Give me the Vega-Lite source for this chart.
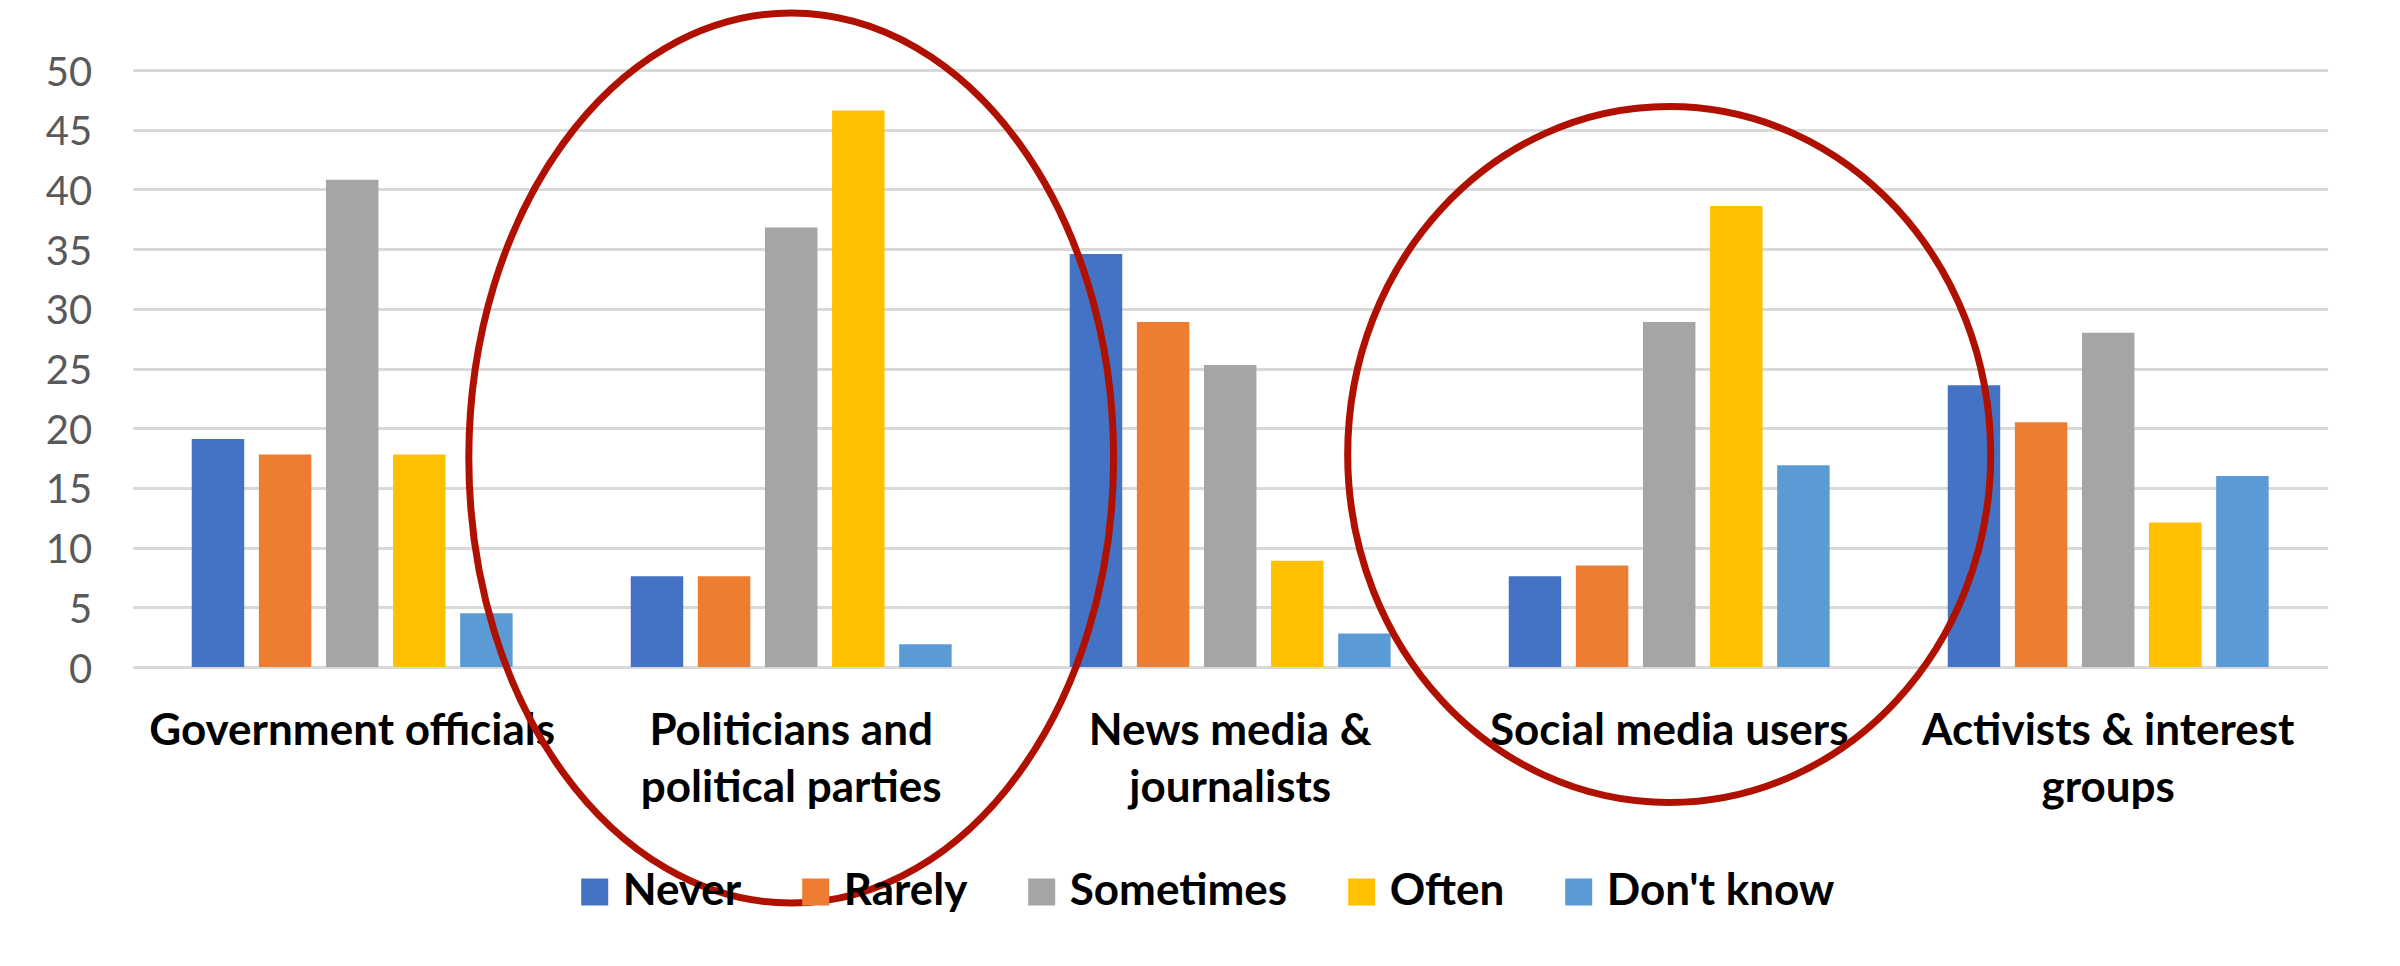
{
  "$schema": "https://vega.github.io/schema/vega-lite/v6.json",
  "width": 2195,
  "height": 597,
  "autosize": {"type": "none"},
  "padding": {"left": 132.7, "top": 70, "right": 72.3, "bottom": 299},
  "background": "white",
  "config": {"view": {"stroke": null}, "font": "Lato"},
  "datasets": {
    "survey": [
      {"group": "Government officials", "response": "Never", "value": 19.1},
      {"group": "Government officials", "response": "Rarely", "value": 17.8},
      {"group": "Government officials", "response": "Sometimes", "value": 40.8},
      {"group": "Government officials", "response": "Often", "value": 17.8},
      {"group": "Government officials", "response": "Don't know", "value": 4.5},
      {"group": "Politicians and political parties", "response": "Never", "value": 7.6},
      {"group": "Politicians and political parties", "response": "Rarely", "value": 7.6},
      {"group": "Politicians and political parties", "response": "Sometimes", "value": 36.8},
      {"group": "Politicians and political parties", "response": "Often", "value": 46.6},
      {"group": "Politicians and political parties", "response": "Don't know", "value": 1.9},
      {"group": "News media & journalists", "response": "Never", "value": 34.6},
      {"group": "News media & journalists", "response": "Rarely", "value": 28.9},
      {"group": "News media & journalists", "response": "Sometimes", "value": 25.3},
      {"group": "News media & journalists", "response": "Often", "value": 8.9},
      {"group": "News media & journalists", "response": "Don't know", "value": 2.8},
      {"group": "Social media users", "response": "Never", "value": 7.6},
      {"group": "Social media users", "response": "Rarely", "value": 8.5},
      {"group": "Social media users", "response": "Sometimes", "value": 28.9},
      {"group": "Social media users", "response": "Often", "value": 38.6},
      {"group": "Social media users", "response": "Don't know", "value": 16.9},
      {"group": "Activists & interest groups", "response": "Never", "value": 23.6},
      {"group": "Activists & interest groups", "response": "Rarely", "value": 20.5},
      {"group": "Activists & interest groups", "response": "Sometimes", "value": 28.0},
      {"group": "Activists & interest groups", "response": "Often", "value": 12.1},
      {"group": "Activists & interest groups", "response": "Don't know", "value": 16.0}
    ],
    "highlights": [
      {"group": "Politicians and political parties", "center": 17.5},
      {"group": "Social media users", "center": 17.8}
    ]
  },
  "layer": [
    {
      "data": {"name": "survey"},
      "mark": {"type": "bar"},
      "encoding": {
        "x": {
          "field": "group",
          "type": "nominal",
          "sort": null,
          "scale": {
            "domain": ["Government officials", "Politicians and political parties", "News media & journalists", "Social media users", "Activists & interest groups"],
            "paddingInner": 0,
            "paddingOuter": 0
          },
          "axis": {
            "title": null,
            "labelAngle": 0,
            "labelFont": "Lato",
            "labelFontSize": 44,
            "labelFontWeight": "bold",
            "labelColor": "#000000",
            "labelPadding": 42,
            "ticks": false,
            "tickSize": 0,
            "domain": false,
            "grid": false,
            "labelLimit": 0,
            "labelLineHeight": 57,
            "labelBaseline": "top",
            "zindex": 0,
            "labelExpr": "datum.value == 'Politicians and political parties' ? ['Politicians and', 'political parties'] : datum.value == 'News media & journalists' ? ['News media &', 'journalists'] : datum.value == 'Activists & interest groups' ? ['Activists & interest', 'groups'] : datum.value"
          }
        },
        "xOffset": {
          "field": "response",
          "type": "nominal",
          "sort": ["Never", "Rarely", "Sometimes", "Often", "Don't know"],
          "scale": {"paddingInner": 0.218, "paddingOuter": 0.88}
        },
        "y": {
          "field": "value",
          "type": "quantitative",
          "scale": {"domain": [0, 50], "nice": false, "zero": true},
          "axis": {
            "title": null,
            "values": [0, 5, 10, 15, 20, 25, 30, 35, 40, 45, 50],
            "labelFont": "Lato",
            "labelFontSize": 40,
            "labelColor": "#595959",
            "labelPadding": 41,
            "labelOffset": 3,
            "ticks": false,
            "tickSize": 0,
            "domain": false,
            "grid": true,
            "gridColor": "#D9D9D9",
            "gridWidth": 3,
            "zindex": 0
          }
        },
        "color": {
          "field": "response",
          "type": "nominal",
          "sort": ["Never", "Rarely", "Sometimes", "Often", "Don't know"],
          "scale": {
            "domain": ["Never", "Rarely", "Sometimes", "Often", "Don't know"],
            "range": ["#4472C4", "#ED7D31", "#A5A5A5", "#FFC000", "#5B9BD5"]
          },
          "legend": {
            "title": null,
            "orient": "none",
            "legendX": 440,
            "legendY": 800,
            "direction": "horizontal",
            "columns": 5,
            "symbolType": "square",
            "symbolSize": 729,
            "symbolStrokeWidth": 0,
            "labelFont": "Lato",
            "labelFontSize": 44,
            "labelFontWeight": "bold",
            "labelColor": "#000000",
            "labelOffset": 6,
            "labelLimit": 0,
            "columnPadding": 52,
            "padding": 0,
            "zindex": 0
          }
        }
      }
    },
    {
      "data": {"name": "highlights"},
      "transform": [{"filter": "datum.group === 'Politicians and political parties'"}],
      "mark": {
        "type": "point",
        "shape": "M 0.7245,0 C 0.7245,0.5523 0.4001,1 0,1 C -0.4001,1 -0.7245,0.5523 -0.7245,0 C -0.7245,-0.5523 -0.4001,-1 0,-1 C 0.4001,-1 0.7245,-0.5523 0.7245,0 Z",
        "size": 792100,
        "filled": false,
        "stroke": "#B01000",
        "strokeWidth": 7,
        "opacity": 1
      },
      "encoding": {
        "x": {"field": "group", "type": "nominal", "sort": null},
        "y": {"field": "center", "type": "quantitative"}
      }
    },
    {
      "data": {"name": "highlights"},
      "transform": [{"filter": "datum.group === 'Social media users'"}],
      "mark": {
        "type": "point",
        "shape": "M 0.9239,0 C 0.9239,0.5523 0.5103,1 0,1 C -0.5103,1 -0.9239,0.5523 -0.9239,0 C -0.9239,-0.5523 -0.5103,-1 0,-1 C 0.5103,-1 0.9239,-0.5523 0.9239,0 Z",
        "size": 484416,
        "filled": false,
        "stroke": "#B01000",
        "strokeWidth": 7,
        "opacity": 1
      },
      "encoding": {
        "x": {"field": "group", "type": "nominal", "sort": null},
        "y": {"field": "center", "type": "quantitative"}
      }
    }
  ]
}
